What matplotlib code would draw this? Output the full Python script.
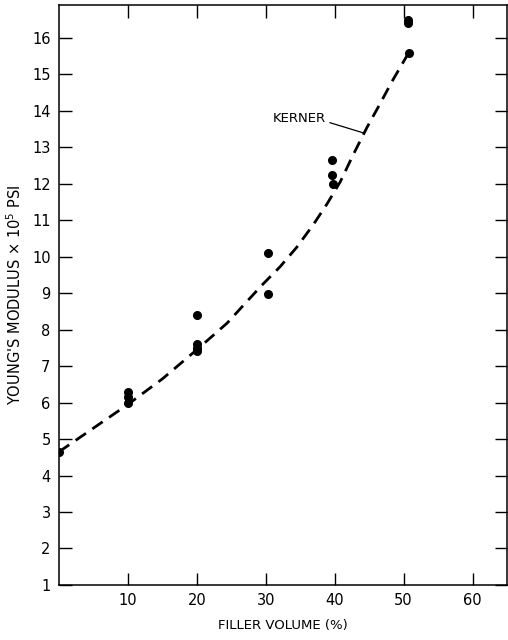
import numpy as np
import matplotlib
matplotlib.use("Agg")
import matplotlib.pyplot as plt

# measured points (filler volume %, Young's modulus x 10^5 psi)
vol_pts = [0, 10, 10, 10, 20, 20, 20, 20, 30.3, 30.3, 39.6, 39.6, 39.8, 50.7, 50.7, 50.8]
mod_pts = [4.65, 6.3, 6.15, 6.0, 8.4, 7.6, 7.5, 7.42, 10.1, 8.97, 12.65, 12.25, 12.0, 16.48, 16.4, 15.6]

# Kerner curve
kerner_vol = [0, 5, 10, 15, 20, 24.4, 27.3, 29.6, 32.1, 34.5, 36.9, 38.9,
              40.8, 42.7, 44.7, 46.6, 48.3, 50.7]
kerner_mod = [4.65, 5.3, 5.95, 6.65, 7.45, 8.18, 8.78, 9.25, 9.73, 10.26, 10.88, 11.45,
              12.05, 12.8, 13.55, 14.2, 14.8, 15.58]

xticks = [10, 20, 30, 40, 50, 60]
yticks = list(range(1, 17))

plt.rcParams['font.family'] = ['DejaVu Sans']

fig = plt.figure(figsize=(5.08, 6.4), dpi=100)
ax = fig.add_axes([0.116, 0.086, 0.882, 0.906])

ax.plot(kerner_vol, kerner_mod, color="black", lw=2.0, ls=(0, (4.5, 2.8)),
        dash_capstyle="butt")
ax.plot(vol_pts, mod_pts, "o", color="black", ms=5.5, zorder=3)

ax.annotate("KERNER", xy=(44.1, 13.4), xytext=(31.0, 13.8),
            textcoords="data", ha="left", va="center", fontsize=9.5,
            arrowprops=dict(arrowstyle="-", lw=0.9, color="black",
                            shrinkA=1, shrinkB=0, relpos=(1.0, 0.25)))

ax.set_xlim(0, 65)
ax.set_ylim(1, 16.9)
ax.set_xticks(xticks)
ax.set_yticks(yticks)
ax.tick_params(direction="in", length=9, width=1.0, labelsize=10.5,
               top=True, right=True, pad=6)
for s in ax.spines.values():
    s.set_linewidth(1.1)

ax.set_xlabel("FILLER VOLUME (%)", fontsize=9.5, labelpad=8)
ax.set_ylabel("YOUNG'S MODULUS × 10$^5$ PSI", fontsize=10.5, labelpad=6)

fig.savefig("out.png", dpi=100)
